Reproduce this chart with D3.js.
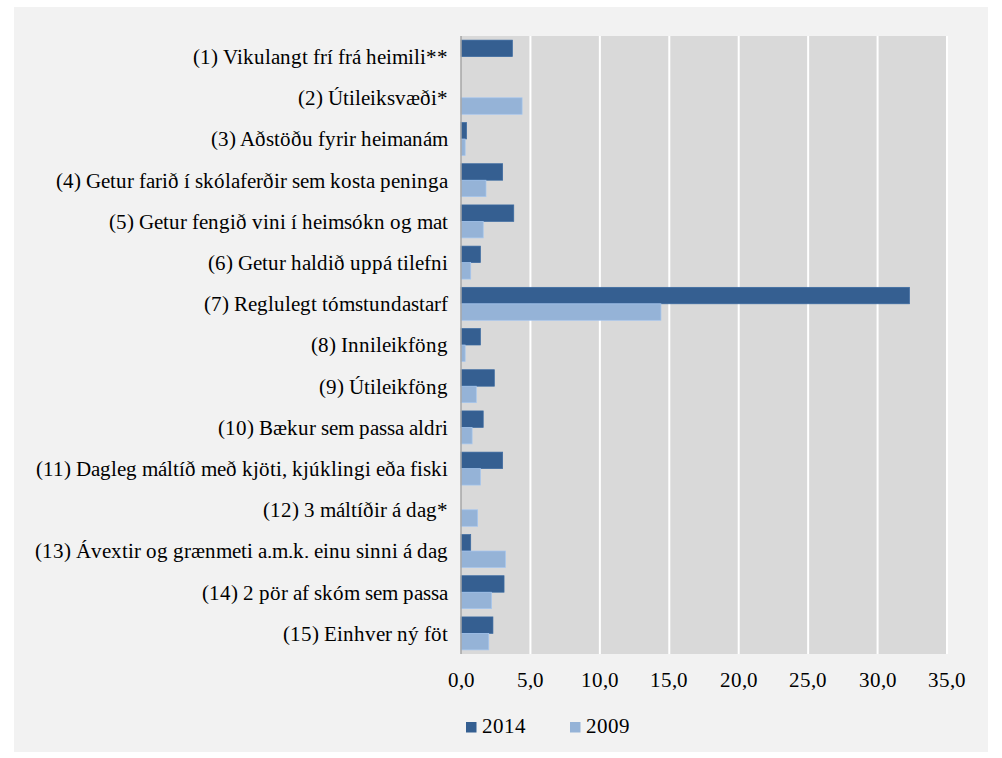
<!DOCTYPE html>
<html>
<head>
<meta charset="utf-8">
<script src="https://cdnjs.cloudflare.com/ajax/libs/d3/7.8.5/d3.min.js"></script>
<style>
  @font-face {
    font-family: "ChartSerif";
    src: local("Liberation Serif"), local("LiberationSerif-Regular"), local("LiberationSerif"), local("Times New Roman"), local("Tinos");
  }
  body { margin: 0; }
  text { font-family: "ChartSerif", "Liberation Serif", "Times New Roman", serif !important; }
</style>
</head>
<body>
<svg width="1002" height="758"></svg>
<script>
// categories, top to bottom
var categories = [
  "(1) Vikulangt frí frá heimili**",
  "(2) Útileiksvæði*",
  "(3) Aðstöðu fyrir heimanám",
  "(4) Getur farið í skólaferðir sem kosta peninga",
  "(5) Getur fengið vini í heimsókn og mat",
  "(6) Getur haldið uppá tilefni",
  "(7) Reglulegt tómstundastarf",
  "(8) Innileikföng",
  "(9) Útileikföng",
  "(10) Bækur sem passa aldri",
  "(11) Dagleg máltíð með kjöti, kjúklingi eða fiski",
  "(12) 3 máltíðir á dag*",
  "(13) Ávextir og grænmeti a.m.k. einu sinni á dag",
  "(14) 2 pör af skóm sem passa",
  "(15) Einhver ný föt"
];
var values2014 = [3.7, 0, 0.4, 3.0, 3.8, 1.4, 32.3, 1.4, 2.4, 1.6, 3.0, 0, 0.7, 3.1, 2.3];
var values2009 = [0, 4.4, 0.3, 1.8, 1.6, 0.7, 14.4, 0.3, 1.1, 0.8, 1.4, 1.2, 3.2, 2.2, 2.0];
var seriesNames = ["2014", "2009"];
var seriesColors = ["#355f91", "#95b3d7"];
var xTicks = [0, 5, 10, 15, 20, 25, 30, 35];

var svg = d3.select("svg");

// outer panel
svg.append("rect")
  .attr("x", 14).attr("y", 7)
  .attr("width", 974).attr("height", 745)
  .attr("fill", "#f2f2f2");

var plotLeft = 461, plotRight = 947, plotTop = 36, plotBottom = 654;

var x = d3.scaleLinear().domain([0, 35]).range([plotLeft, plotRight]);
var y = d3.scaleBand().domain(categories).range([plotTop, plotBottom])
  .paddingInner(0.2).paddingOuter(0.1);
var ySub = d3.scaleBand().domain(seriesNames).range([0, y.bandwidth()]);

// plot background
svg.append("rect")
  .attr("x", plotLeft).attr("y", plotTop)
  .attr("width", plotRight - plotLeft).attr("height", plotBottom - plotTop)
  .attr("fill", "#d9d9d9");

// gridlines
svg.selectAll(".grid")
  .data(xTicks.slice(1))
  .enter().append("line")
  .attr("x1", function(d) { return x(d); })
  .attr("x2", function(d) { return x(d); })
  .attr("y1", plotTop).attr("y2", plotBottom)
  .attr("stroke", "#fff").attr("stroke-width", 2);

// bars
var rows = categories.map(function(c, i) {
  return { cat: c, vals: [values2014[i], values2009[i]] };
});

var groups = svg.selectAll(".row")
  .data(rows)
  .enter().append("g")
  .attr("transform", function(d) { return "translate(0," + y(d.cat) + ")"; });

groups.selectAll("rect")
  .data(function(d) { return d.vals.map(function(v, j) { return { v: v, s: seriesNames[j], c: seriesColors[j] }; }); })
  .enter().append("rect")
  .filter(function(d) { return d.v > 0; })
  .attr("x", x(0))
  .attr("y", function(d) { return ySub(d.s); })
  .attr("width", function(d) { return x(d.v) - x(0); })
  .attr("height", ySub.bandwidth())
  .attr("fill", function(d) { return d.c; })
  .attr("stroke", function(d) { return d3.color(d.c).brighter(0.3); })
  .attr("stroke-width", 0.7);

// category labels
svg.selectAll(".cat")
  .data(categories)
  .enter().append("text")
  .attr("x", 448)
  .attr("y", function(d) { return y(d) + y.bandwidth() / 2; })
  .attr("dy", "0.35em")
  .attr("text-anchor", "end")
  .attr("font-size", 21.3)
  .text(function(d) { return d; });

// y axis line
svg.append("line")
  .attr("x1", plotLeft).attr("x2", plotLeft)
  .attr("y1", plotTop).attr("y2", plotBottom)
  .attr("stroke", "#a6a6a6").attr("stroke-width", 1.5);

// x tick labels
var fmt = function(d) { return d3.format(".1f")(d).replace(".", ","); };
svg.selectAll(".tick")
  .data(xTicks)
  .enter().append("text")
  .attr("x", function(d) { return x(d); })
  .attr("y", 687)
  .attr("text-anchor", "middle")
  .attr("font-size", 20.5)
  .text(fmt);

// legend
var legend = svg.selectAll(".leg")
  .data(seriesNames)
  .enter().append("g")
  .attr("transform", function(d, i) { return "translate(" + (466 + i * 104) + ",722)"; });

legend.append("rect")
  .attr("width", 10.5).attr("height", 10.5)
  .attr("fill", function(d, i) { return seriesColors[i]; });

legend.append("text")
  .attr("x", 15.5).attr("y", 11.3)
  .attr("font-size", 20.5)
  .text(function(d) { return d; });
</script>
</body>
</html>
